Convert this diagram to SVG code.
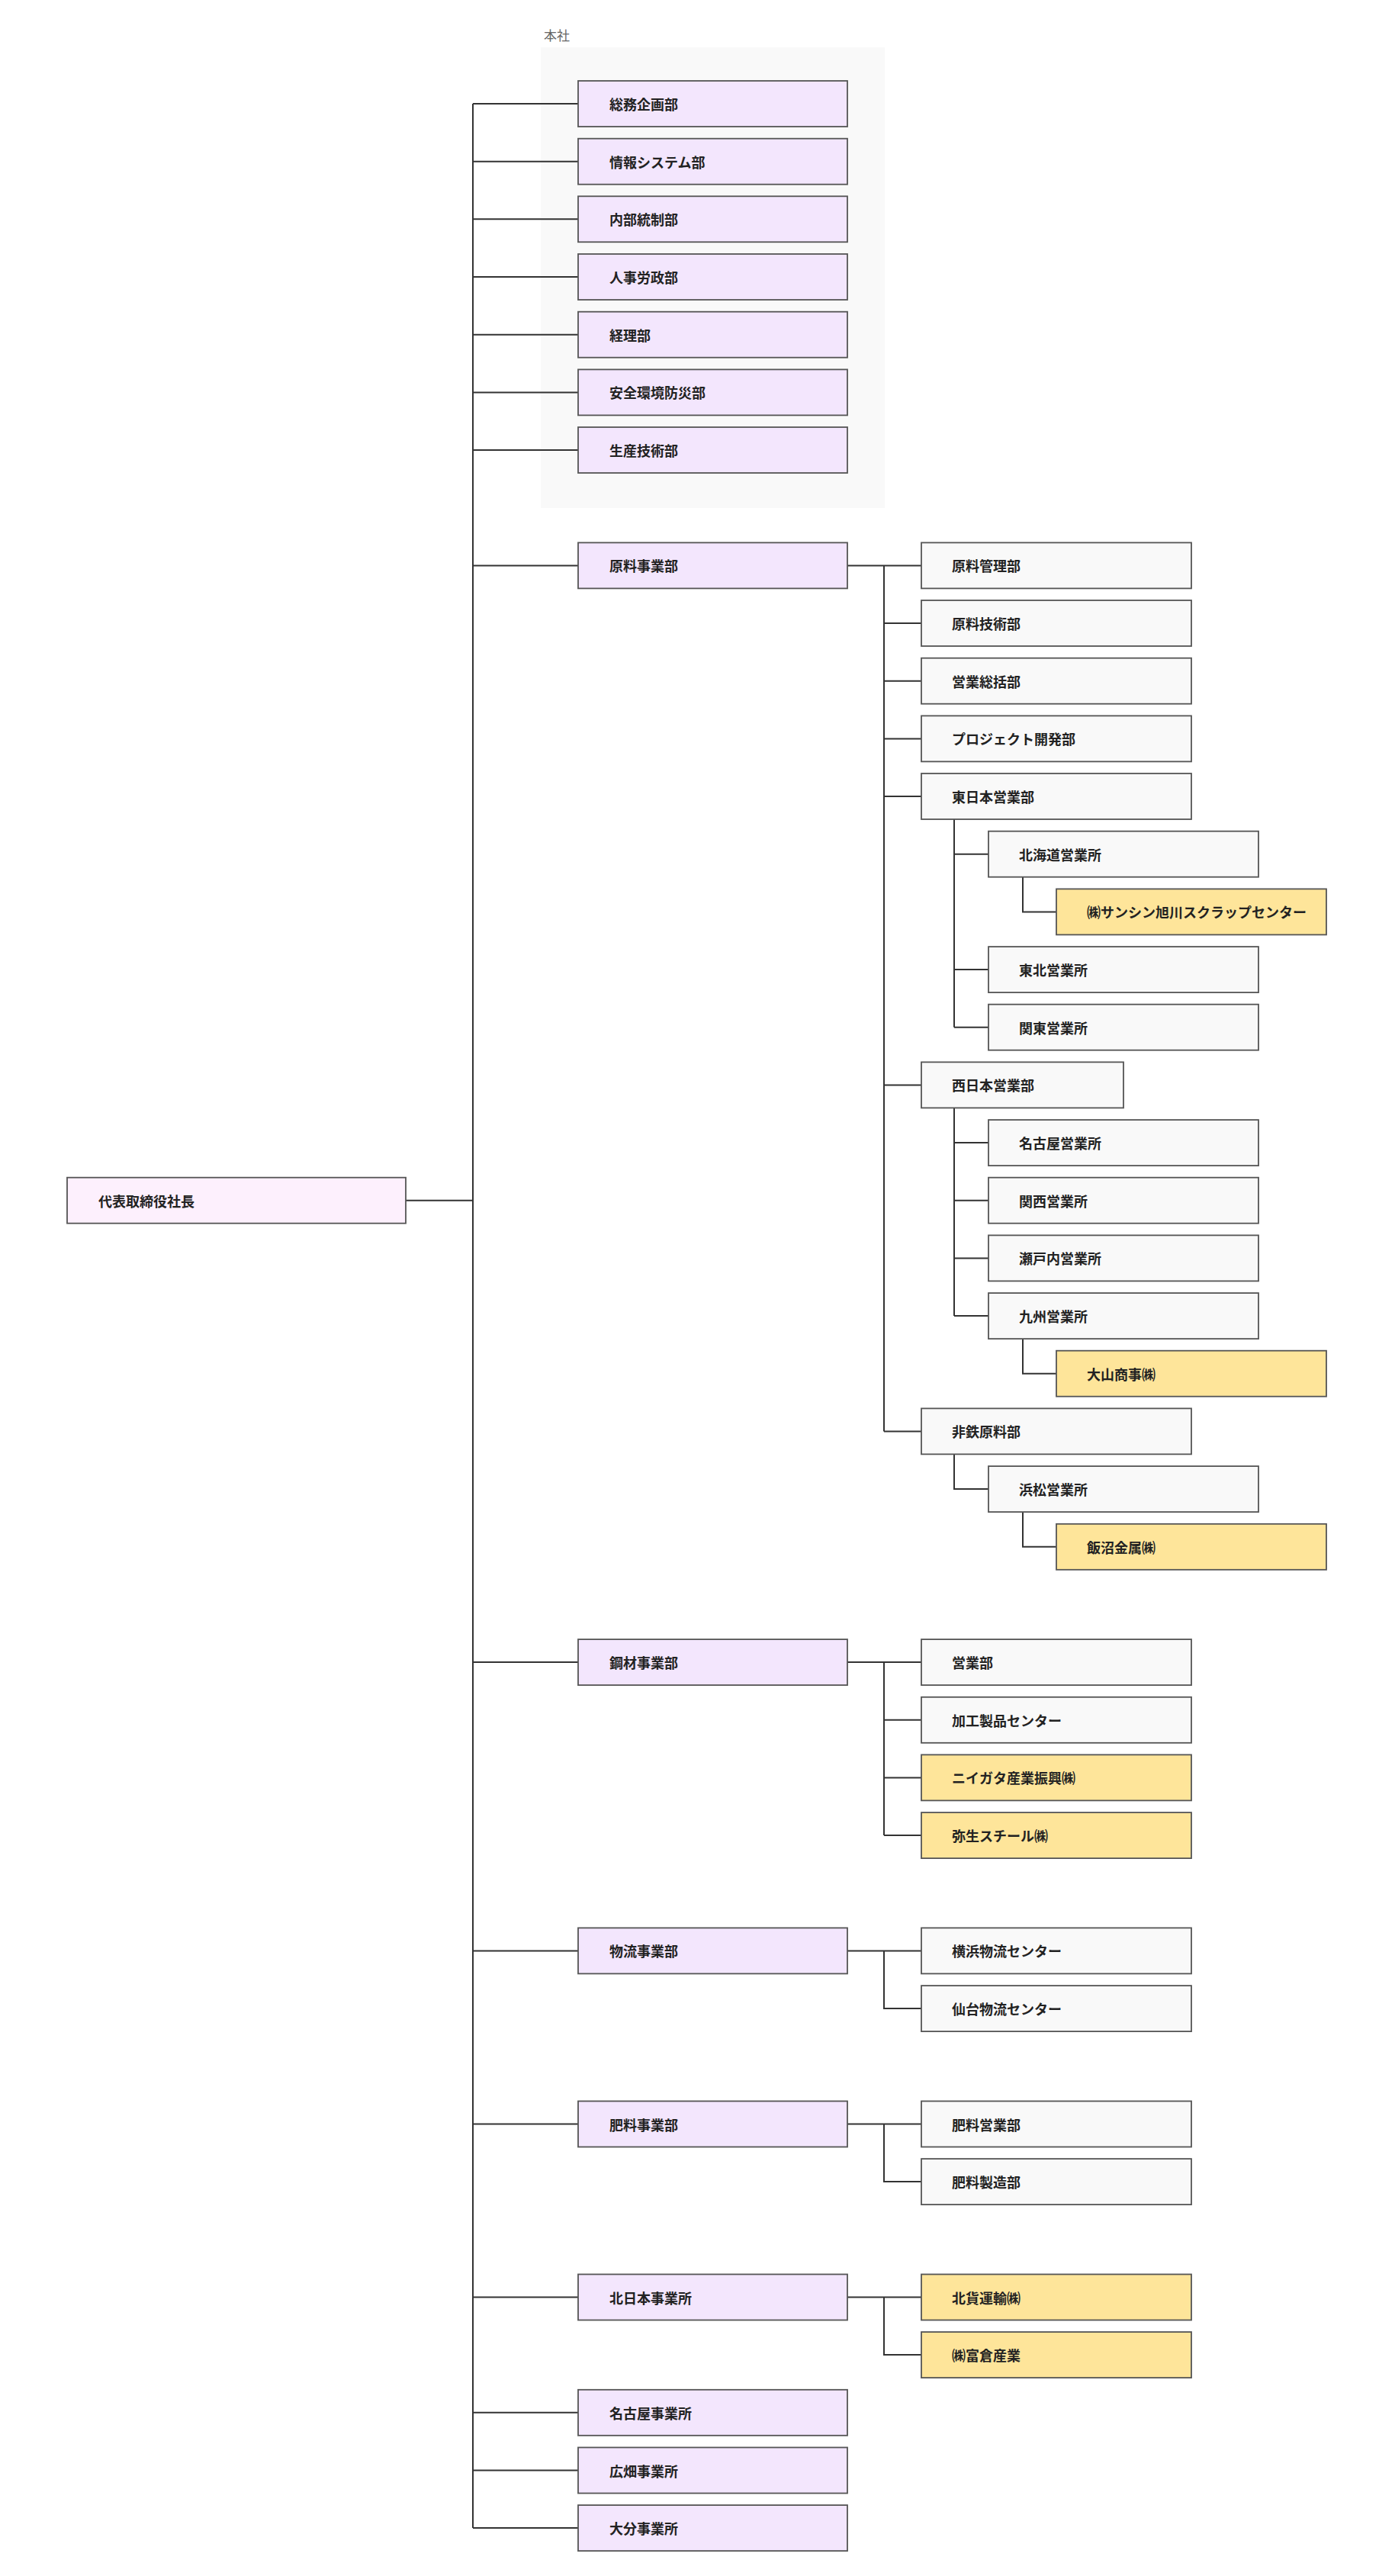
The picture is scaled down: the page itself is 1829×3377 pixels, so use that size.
<svg xmlns="http://www.w3.org/2000/svg" width="1829" height="3377" viewBox="0 0 1829 3377">
<style>
.b{stroke:#555;stroke-width:1.8}
.root{fill:#fdf0fd}
.l1{fill:#f3e6fd}
.gr{fill:#f9f9f9}
.ye{fill:#fee59a}
.t{font-family:"Noto Sans CJK JP","Liberation Sans",sans-serif;font-weight:bold;font-size:18px;fill:#222;dominant-baseline:central}
.c{fill:none;stroke:#333;stroke-width:2}
</style>
<rect x="0" y="0" width="1829" height="3377" fill="#fff"/>
<g id="honsha">
<rect x="709" y="62" width="451" height="604" fill="#f9f9f9"/>
<text x="713" y="45" font-family="'Noto Sans CJK JP','Liberation Sans',sans-serif" font-size="17" fill="#666" dominant-baseline="central">本社</text>
</g>
<g id="connectors" class="c">
<path d="M532 1573.7H620M620 136V3314.1"/>
<path d="M620 136H758M620 211.7H758M620 287.3H758M620 363H758M620 438.7H758M620 514.4H758M620 590H758"/>
<path d="M620 741.4H758M620 2179.1H758M620 2557.4H758M620 2784.5H758M620 3011.5H758M620 3162.8H758M620 3238.5H758M620 3314.1H758"/>
<path d="M1111 741.4H1208M1159 741.4V1876.4M1159 817H1208M1159 892.7H1208M1159 968.4H1208M1159 1044H1208M1159 1422.4H1208M1159 1876.4H1208"/>
<path d="M1251 1074V1346.7M1251 1119.7H1296M1251 1271.1H1296M1251 1346.7H1296"/>
<path d="M1341 1149.7V1195.4H1385"/>
<path d="M1251 1452.4V1725.1M1251 1498.1H1296M1251 1573.7H1296M1251 1649.4H1296M1251 1725.1H1296"/>
<path d="M1341 1755.1V1800.7H1385"/>
<path d="M1251 1906.4V1952.1H1296"/>
<path d="M1341 1982.1V2027.8H1385"/>
<path d="M1111 2179.1H1208M1159 2179.1V2406.1M1159 2254.8H1208M1159 2330.4H1208M1159 2406.1H1208"/>
<path d="M1111 2557.4H1208M1159 2557.4V2633.1H1208"/>
<path d="M1111 2784.5H1208M1159 2784.5V2860.1H1208"/>
<path d="M1111 3011.5H1208M1159 3011.5V3087.1H1208"/>
</g>
<g id="n-ceo" transform="translate(88,1543.7)"><rect class="b root" width="444" height="60"/><text class="t" x="41" y="30">代表取締役社長</text></g>
<g id="n-somu" transform="translate(758,106)"><rect class="b l1" width="353" height="60"/><text class="t" x="41" y="30">総務企画部</text></g>
<g id="n-joho" transform="translate(758,181.7)"><rect class="b l1" width="353" height="60"/><text class="t" x="41" y="30">情報システム部</text></g>
<g id="n-naibu" transform="translate(758,257.3)"><rect class="b l1" width="353" height="60"/><text class="t" x="41" y="30">内部統制部</text></g>
<g id="n-jinji" transform="translate(758,333)"><rect class="b l1" width="353" height="60"/><text class="t" x="41" y="30">人事労政部</text></g>
<g id="n-keiri" transform="translate(758,408.7)"><rect class="b l1" width="353" height="60"/><text class="t" x="41" y="30">経理部</text></g>
<g id="n-anzen" transform="translate(758,484.4)"><rect class="b l1" width="353" height="60"/><text class="t" x="41" y="30">安全環境防災部</text></g>
<g id="n-seisan" transform="translate(758,560)"><rect class="b l1" width="353" height="60"/><text class="t" x="41" y="30">生産技術部</text></g>
<g id="n-genryo" transform="translate(758,711.4)"><rect class="b l1" width="353" height="60"/><text class="t" x="41" y="30">原料事業部</text></g>
<g id="n-genkanri" transform="translate(1208,711.4)"><rect class="b gr" width="354" height="60"/><text class="t" x="40" y="30">原料管理部</text></g>
<g id="n-gengijutsu" transform="translate(1208,787)"><rect class="b gr" width="354" height="60"/><text class="t" x="40" y="30">原料技術部</text></g>
<g id="n-eigyosokatsu" transform="translate(1208,862.7)"><rect class="b gr" width="354" height="60"/><text class="t" x="40" y="30">営業総括部</text></g>
<g id="n-project" transform="translate(1208,938.4)"><rect class="b gr" width="354" height="60"/><text class="t" x="40" y="30">プロジェクト開発部</text></g>
<g id="n-higashi" transform="translate(1208,1014)"><rect class="b gr" width="354" height="60"/><text class="t" x="40" y="30">東日本営業部</text></g>
<g id="n-hokkaido" transform="translate(1296,1089.7)"><rect class="b gr" width="354" height="60"/><text class="t" x="40" y="30">北海道営業所</text></g>
<g id="n-sanshin" transform="translate(1385,1165.4)"><rect class="b ye" width="354" height="60"/><text class="t" x="40" y="30">㈱サンシン旭川スクラップセンター</text></g>
<g id="n-tohoku" transform="translate(1296,1241.1)"><rect class="b gr" width="354" height="60"/><text class="t" x="40" y="30">東北営業所</text></g>
<g id="n-kanto" transform="translate(1296,1316.7)"><rect class="b gr" width="354" height="60"/><text class="t" x="40" y="30">関東営業所</text></g>
<g id="n-nishi" transform="translate(1208,1392.4)"><rect class="b gr" width="265" height="60"/><text class="t" x="40" y="30">西日本営業部</text></g>
<g id="n-nagoya" transform="translate(1296,1468.1)"><rect class="b gr" width="354" height="60"/><text class="t" x="40" y="30">名古屋営業所</text></g>
<g id="n-kansai" transform="translate(1296,1543.7)"><rect class="b gr" width="354" height="60"/><text class="t" x="40" y="30">関西営業所</text></g>
<g id="n-setouchi" transform="translate(1296,1619.4)"><rect class="b gr" width="354" height="60"/><text class="t" x="40" y="30">瀬戸内営業所</text></g>
<g id="n-kyushu" transform="translate(1296,1695.1)"><rect class="b gr" width="354" height="60"/><text class="t" x="40" y="30">九州営業所</text></g>
<g id="n-oyama" transform="translate(1385,1770.7)"><rect class="b ye" width="354" height="60"/><text class="t" x="40" y="30">大山商事㈱</text></g>
<g id="n-hitetsu" transform="translate(1208,1846.4)"><rect class="b gr" width="354" height="60"/><text class="t" x="40" y="30">非鉄原料部</text></g>
<g id="n-hamamatsu" transform="translate(1296,1922.1)"><rect class="b gr" width="354" height="60"/><text class="t" x="40" y="30">浜松営業所</text></g>
<g id="n-iinuma" transform="translate(1385,1997.8)"><rect class="b ye" width="354" height="60"/><text class="t" x="40" y="30">飯沼金属㈱</text></g>
<g id="n-kozai" transform="translate(758,2149.1)"><rect class="b l1" width="353" height="60"/><text class="t" x="41" y="30">鋼材事業部</text></g>
<g id="n-eigyobu" transform="translate(1208,2149.1)"><rect class="b gr" width="354" height="60"/><text class="t" x="40" y="30">営業部</text></g>
<g id="n-kako" transform="translate(1208,2224.8)"><rect class="b gr" width="354" height="60"/><text class="t" x="40" y="30">加工製品センター</text></g>
<g id="n-niigata" transform="translate(1208,2300.4)"><rect class="b ye" width="354" height="60"/><text class="t" x="40" y="30">ニイガタ産業振興㈱</text></g>
<g id="n-yayoi" transform="translate(1208,2376.1)"><rect class="b ye" width="354" height="60"/><text class="t" x="40" y="30">弥生スチール㈱</text></g>
<g id="n-butsuryu" transform="translate(758,2527.4)"><rect class="b l1" width="353" height="60"/><text class="t" x="41" y="30">物流事業部</text></g>
<g id="n-yokohama" transform="translate(1208,2527.4)"><rect class="b gr" width="354" height="60"/><text class="t" x="40" y="30">横浜物流センター</text></g>
<g id="n-sendai" transform="translate(1208,2603.1)"><rect class="b gr" width="354" height="60"/><text class="t" x="40" y="30">仙台物流センター</text></g>
<g id="n-hiryo" transform="translate(758,2754.5)"><rect class="b l1" width="353" height="60"/><text class="t" x="41" y="30">肥料事業部</text></g>
<g id="n-hiryoeigyo" transform="translate(1208,2754.5)"><rect class="b gr" width="354" height="60"/><text class="t" x="40" y="30">肥料営業部</text></g>
<g id="n-hiryoseizo" transform="translate(1208,2830.1)"><rect class="b gr" width="354" height="60"/><text class="t" x="40" y="30">肥料製造部</text></g>
<g id="n-kitanihon" transform="translate(758,2981.5)"><rect class="b l1" width="353" height="60"/><text class="t" x="41" y="30">北日本事業所</text></g>
<g id="n-hokka" transform="translate(1208,2981.5)"><rect class="b ye" width="354" height="60"/><text class="t" x="40" y="30">北貨運輸㈱</text></g>
<g id="n-tomikura" transform="translate(1208,3057.1)"><rect class="b ye" width="354" height="60"/><text class="t" x="40" y="30">㈱富倉産業</text></g>
<g id="n-nagoyajigyo" transform="translate(758,3132.8)"><rect class="b l1" width="353" height="60"/><text class="t" x="41" y="30">名古屋事業所</text></g>
<g id="n-hirohata" transform="translate(758,3208.5)"><rect class="b l1" width="353" height="60"/><text class="t" x="41" y="30">広畑事業所</text></g>
<g id="n-oita" transform="translate(758,3284.1)"><rect class="b l1" width="353" height="60"/><text class="t" x="41" y="30">大分事業所</text></g>
</svg>
